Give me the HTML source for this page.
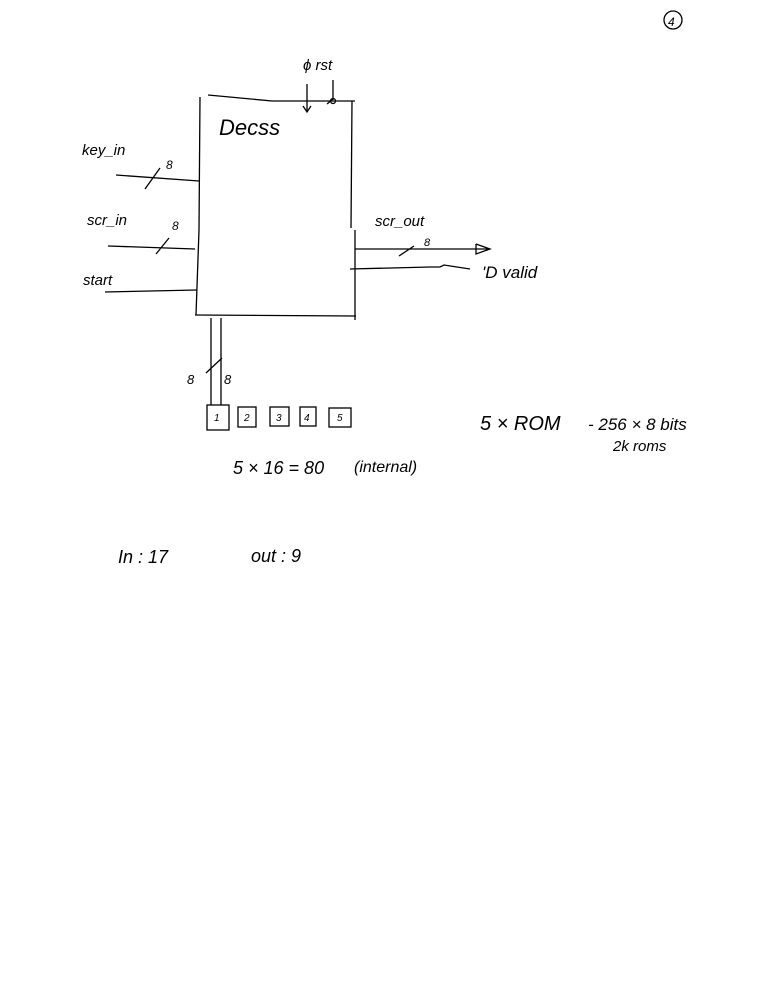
<!DOCTYPE html>
<html><head><meta charset="utf-8"><style>
html,body{margin:0;padding:0;background:#fff;width:771px;height:998px;overflow:hidden}
svg{display:block}
text{font-family:"Liberation Sans",sans-serif;fill:#000}
</style></head><body>
<svg width="771" height="998" viewBox="0 0 771 998" xmlns="http://www.w3.org/2000/svg">
<g stroke="#000" stroke-width="1.3" fill="none">
<!-- main box -->
<path d="M208 95 L272 101 L355 101"/>
<path d="M200 97 L199 230 L196 315"/>
<path d="M352 101 L351 228"/>
<path d="M355 230 L355 320"/>
<path d="M195 315 L356 316"/>
<!-- clock / rst -->
<path d="M307 84 L307 111 M303 106 L307 112 L311 106"/>
<path d="M333 80 L333 100 M327 104 L333 99"/>
<circle cx="333" cy="101" r="2.5"/>
<!-- inputs -->
<path d="M116 175 L199 181 M145 189 L160 168"/>
<path d="M108 246 L195 249 M156 254 L169 238"/>
<path d="M105 292 L197 290"/>
<!-- outputs -->
<path d="M355 249 L490 249 M476 244 L490 249 L476 254 L476 244 M399 256 L414 246"/>
<path d="M350 269 L430 267 L440 267 L444 265 L470 269"/>
<!-- bus down -->
<path d="M211 318 L211 405 M221 318 L221 405 M206 373 L222 358"/>
<!-- ROM boxes -->
<rect x="207" y="405" width="22" height="25"/>
<rect x="238" y="407" width="18" height="20"/>
<rect x="270" y="407" width="19" height="19"/>
<rect x="300" y="407" width="16" height="19"/>
<rect x="329" y="408" width="22" height="19"/>
<!-- circle top right -->
<circle cx="673" cy="20" r="9"/>
</g>
<g font-size="15" font-style="italic">
<text x="219" y="135" font-size="22">Decss</text>
<text x="82" y="155">key_in</text>
<text x="166" y="169" font-size="12">8</text>
<text x="87" y="225">scr_in</text>
<text x="172" y="230" font-size="12">8</text>
<text x="83" y="285">start</text>
<text x="303" y="70">ϕ rst</text>
<text x="375" y="226">scr_out</text>
<text x="424" y="246" font-size="11">8</text>
<text x="482" y="278" font-size="17">'D valid</text>
<text x="187" y="384" font-size="13">8</text>
<text x="224" y="384" font-size="13">8</text>
<text x="214" y="421" font-size="10">1</text>
<text x="244" y="421" font-size="10">2</text>
<text x="276" y="421" font-size="10">3</text>
<text x="304" y="421" font-size="10">4</text>
<text x="337" y="421" font-size="10">5</text>
<text x="233" y="474" font-size="18">5 × 16 = 80</text>
<text x="354" y="472" font-size="16">(internal)</text>
<text x="480" y="430" font-size="20">5 × ROM</text>
<text x="588" y="430" font-size="17">- 256 × 8 bits</text>
<text x="613" y="451" font-size="15">2k roms</text>
<text x="118" y="563" font-size="18">In : 17</text>
<text x="251" y="562" font-size="18">out : 9</text>
<text x="668" y="26" font-size="12">4</text>
</g>
</svg>
</body></html>
